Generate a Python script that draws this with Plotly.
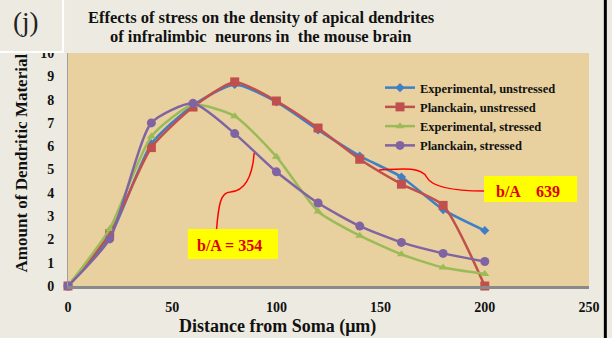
import plotly.graph_objects as go

W, H = 612, 338
L, R, T, B = 68, 594, 53, 286  # plot area in pixels

distance = [0, 20, 40, 60, 80, 100, 120, 140, 160, 180, 200]
exp_unstressed = [0, 2.1, 6.1, 7.75, 8.65, 7.9, 6.7, 5.58, 4.68, 3.28, 2.38]
planck_unstressed = [0, 2.25, 5.94, 7.68, 8.76, 7.94, 6.78, 5.44, 4.37, 3.46, 0]
exp_stressed = [0, 2.45, 6.42, 7.78, 7.29, 5.55, 3.2, 2.16, 1.36, 0.79, 0.52]
planck_stressed = [0, 2.02, 7.0, 7.84, 6.54, 4.9, 3.56, 2.57, 1.87, 1.4, 1.05]

names = ["Experimental, unstressed", "Planckain, unstressed",
         "Experimental, stressed", "Planckain, stressed"]
colors = ["#3F7FC6", "#C0504D", "#9BBB59", "#8064A2"]
symbols = ["diamond", "square", "triangle-up", "circle"]
sizes = [7, 9, 8, 9]
series = [exp_unstressed, planck_unstressed, exp_stressed, planck_stressed]

x_ticks = [0, 50, 100, 150, 200, 250]
y_ticks = list(range(0, 11))

BG = "#EDEBE1"
PAPYRUS = "#E8D19F"
SERIF = "Liberation Serif, Times New Roman, serif"


def px(x):
    return (x - L) / (R - L)


def py(y):
    return (B - y) / (B - T)


fig = go.Figure()
for name, ys, c, s, sz in zip(names, series, colors, symbols, sizes):
    fig.add_trace(go.Scatter(
        x=distance, y=ys, name=f"<b>{name}</b>", mode="lines+markers",
        line=dict(color=c, width=2.5, shape="spline", smoothing=0.6),
        marker=dict(symbol=s, size=sz, color=c),
        cliponaxis=False,
    ))

fig.update_layout(
    width=W, height=H,
    margin=dict(l=L, r=W - R, t=T, b=H - B),
    paper_bgcolor=BG, plot_bgcolor=PAPYRUS,
    showlegend=True,
    legend=dict(x=px(383), y=py(73), xanchor="left", yanchor="top",
                bgcolor="rgba(0,0,0,0)", tracegroupgap=0,
                font=dict(family=SERIF, size=12.5, color="#111"),
                itemwidth=30),
    font=dict(family=SERIF, color="#111"),
)

fig.update_xaxes(range=[0, 250], tickvals=x_ticks, ticktext=[f"<b>{v}</b>" for v in x_ticks],
                 showgrid=False, zeroline=False, showline=True, linecolor="#8A8A8A", linewidth=3,
                 ticks="", ticklabelstandoff=6, tickfont=dict(family=SERIF, size=14, color="#111"))
fig.update_yaxes(range=[0, 10], tickvals=y_ticks, ticktext=[f"<b>{v}</b>" for v in y_ticks],
                 showgrid=False, zeroline=False, showline=True, linecolor="#A0A0A0", linewidth=1,
                 ticks="", ticklabelstandoff=10, tickfont=dict(family=SERIF, size=14, color="#111"))

# axis titles
fig.add_annotation(text="<b>Distance from Soma (μm)</b>", xref="paper", yref="paper",
                   x=px(280), y=py(326), xanchor="center", yanchor="middle", showarrow=False,
                   font=dict(family=SERIF, size=18, color="#111"))
fig.add_annotation(text="<b>Amount of Dendritic Material</b>", xref="paper", yref="paper",
                   x=px(21), y=py(163), xanchor="center", yanchor="middle", showarrow=False,
                   textangle=-90, font=dict(family=SERIF, size=17, color="#111"))

# (j) panel box
fig.add_shape(type="rect", xref="paper", yref="paper",
              x0=px(-3), x1=px(63), y0=py(52), y1=py(-3),
              fillcolor=BG, line=dict(color="white", width=2), layer="above")
fig.add_annotation(text="(j)", xref="paper", yref="paper", x=px(25), y=py(22),
                   xanchor="center", yanchor="middle", showarrow=False,
                   font=dict(family=SERIF, size=27, color="#222"))

# right frame line
fig.add_shape(type="line", xref="paper", yref="paper",
              x0=px(610.5), x1=px(610.5), y0=py(H + 2), y1=py(-2),
              line=dict(color="#000000", width=3), layer="above")

# title
fig.add_annotation(text="<b>Effects of stress on the density of apical dendrites</b>",
                   xref="paper", yref="paper", x=px(263), y=py(17), xanchor="center",
                   yanchor="middle", showarrow=False,
                   font=dict(family=SERIF, size=16.5, color="#111"))
fig.add_annotation(text="<b>of infralimbic  neurons in  the mouse brain</b>",
                   xref="paper", yref="paper", x=px(262), y=py(37), xanchor="center",
                   yanchor="middle", showarrow=False,
                   font=dict(family=SERIF, size=16.5, color="#111"))

# yellow labels
fig.add_shape(type="rect", xref="paper", yref="paper",
              x0=px(189), x1=px(280), y0=py(259), y1=py(229),
              fillcolor="#FFFF00", line=dict(width=0))
fig.add_annotation(text="<b>b/A = 354</b>", xref="paper", yref="paper",
                   x=px(231), y=py(245), xanchor="center", yanchor="middle", showarrow=False,
                   font=dict(family=SERIF, size=16, color="#E00000"))
fig.add_shape(type="rect", xref="paper", yref="paper",
              x0=px(488), x1=px(582), y0=py(202), y1=py(176),
              fillcolor="#FFFF00", line=dict(width=0))
fig.add_annotation(text="<b>b/A    639</b>", xref="paper", yref="paper",
                   x=px(532), y=py(191), xanchor="center", yanchor="middle", showarrow=False,
                   font=dict(family=SERIF, size=16, color="#E00000"))


def path(cmds):
    out = []
    for c in cmds:
        if isinstance(c, str):
            out.append(c)
        else:
            out.append(f"{px(c[0]):.4f},{py(c[1]):.4f}")
    return " ".join(out)


brace1 = path(["M", (218, 229), "C", (220, 205), (222, 192), (232, 192),
               "C", (246, 191), (254, 178), (256, 153)])
brace2 = path(["M", (382, 170), "C", (402, 169), (424, 166), (430, 177),
               "C", (436, 188), (462, 191), (488, 191)])
for p in (brace1, brace2):
    fig.add_shape(type="path", xref="paper", yref="paper", path=p,
                  line=dict(color="#FF0000", width=1.5))

fig.write_html("out.html")
